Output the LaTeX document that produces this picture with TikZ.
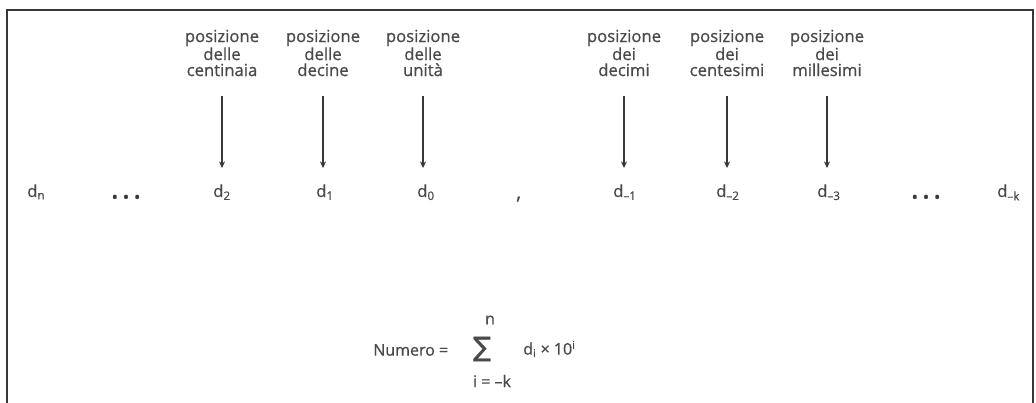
\documentclass[tikz,border=0pt]{standalone}
\usepackage{fontspec}
\setmainfont{Open Sans}[FakeBold=0.8]
\newfontfamily\sumfont{DejaVu Sans}[FakeBold=1]
\usetikzlibrary{arrows.meta}
\definecolor{inkgray}{HTML}{4A4A4A}
\definecolor{linegray}{HTML}{383838}

\begin{document}
\begin{tikzpicture}[
  x=0.75pt, y=-0.75pt,
  place/.style={
    align=center, inner sep=0pt, text=inkgray,
    font=\fontsize{12.5}{12}\selectfont
  },
  digit/.style={
    anchor=base west, inner sep=0pt, text=inkgray,
    font=\fontsize{12.5}{13}\selectfont
  },
  dots/.style={inner sep=0pt, text=linegray, font=\fontsize{13}{13}\selectfont},
  formula/.style={inner sep=0pt, text=inkgray, font=\fontsize{12}{13}\selectfont},
  arr/.style={-{Stealth[length=5pt,width=4.5pt]}, line width=1.5pt, draw=linegray,
    shorten <=15pt, shorten >=12pt},
]
  \useasboundingbox (0,0) rectangle (1036,403);

  % Frame
  \draw[line width=1.2pt, draw=linegray] (7,403) -- (7,10) -- (1033,10) -- (1033,403);

  % Position labels
  \node[place] (pcent) at (222,53) {posizione\\delle\\centinaia};
  \node[place] (pdec)  at (323,53) {posizione\\delle\\decine};
  \node[place] (puni)  at (423,53) {posizione\\delle\\unità};
  \node[place] (pdcm)  at (624,53) {posizione\\dei\\decimi};
  \node[place] (pcts)  at (727,53) {posizione\\dei\\centesimi};
  \node[place] (pmil)  at (827,53) {posizione\\dei\\millesimi};

  % Digits
  \node[digit] (dn)  at (27,197)  {d\textsubscript{n}};
  \node[dots]  (dl)  at (126,199) {•\hspace{3.5pt}•\hspace{3.5pt}•};
  \node[digit] (d2)  at (213,197) {d\textsubscript{2}};
  \node[digit] (d1)  at (316,197) {d\textsubscript{1}};
  \node[digit] (d0)  at (417,197) {d\textsubscript{0}};
  \node[digit, font=\fontsize{15}{15}\selectfont] (cm) at (516,199) {,};
  \node[digit] (dm1) at (613,197) {d\textsubscript{–1}};
  \node[digit] (dm2) at (716,197) {d\textsubscript{–2}};
  \node[digit] (dm3) at (817,197) {d\textsubscript{–3}};
  \node[dots]  (dr)  at (926,199) {•\hspace{3.5pt}•\hspace{3.5pt}•};
  \node[digit] (dk)  at (997,197) {d\textsubscript{–k}};

  % Arrows
  \draw[arr] (pcent.south) -- (pcent.south |- d2.north);
  \draw[arr] (pdec.south)  -- (pdec.south |- d1.north);
  \draw[arr] (puni.south)  -- (puni.south |- d0.north);
  \draw[arr] (pdcm.south)  -- (pdcm.south |- dm1.north);
  \draw[arr] (pcts.south)  -- (pcts.south |- dm2.north);
  \draw[arr] (pmil.south)  -- (pmil.south |- dm3.north);

  % Formula
  \node[formula, anchor=west] (num) at (373,350) {Numero =};
  \node[formula, font=\sumfont\fontsize{20}{20}\selectfont] (sum) at (482,349) {∑};
  \node[formula] (top) at (490,320) {n};
  \node[formula] (bot) at (492,381) {i = –k};
  \node[formula, anchor=west] (term) at (523,349) {d\textsubscript{i} × 10\textsuperscript{i}};
\end{tikzpicture}
\end{document}
